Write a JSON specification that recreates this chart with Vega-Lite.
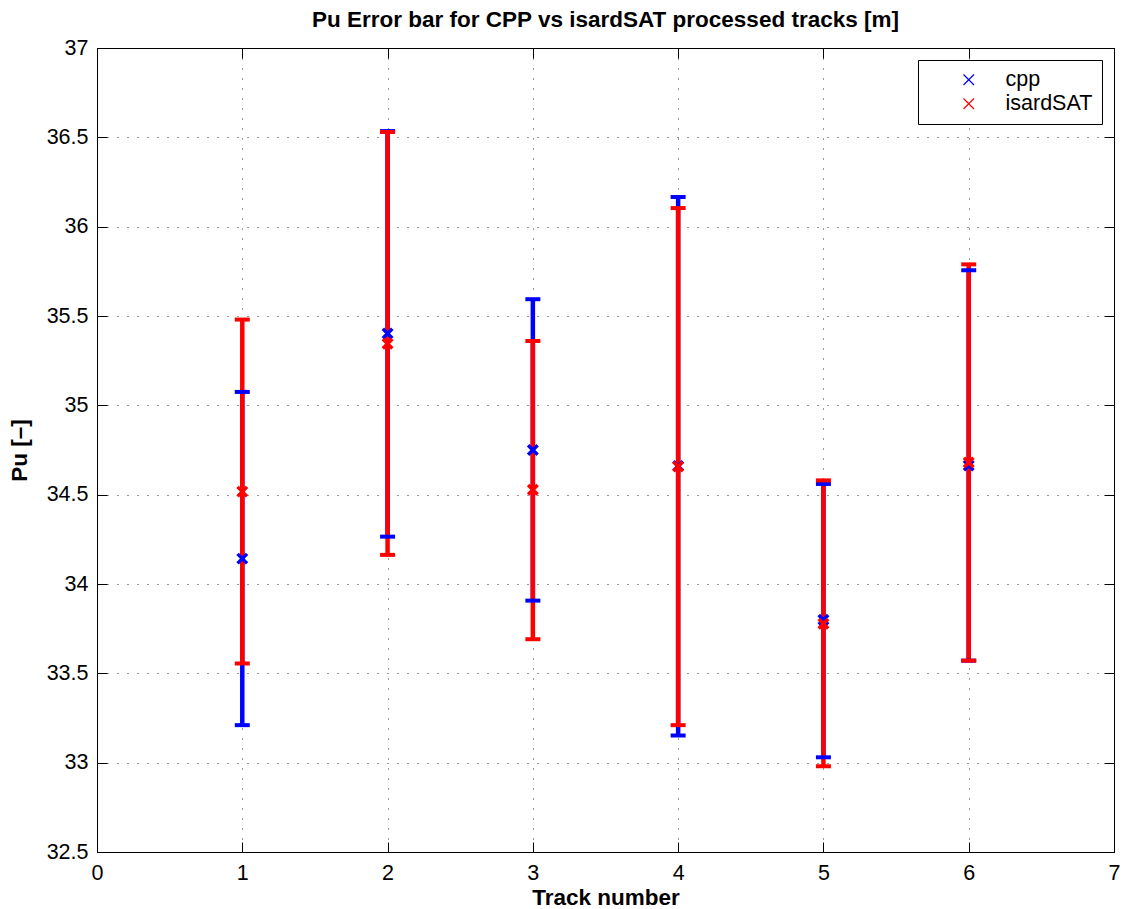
{
  "$schema": "https://vega.github.io/schema/vega-lite/v6.json",
  "autosize": {"type": "none"},
  "padding": {"left": 97, "top": 48, "right": 10, "bottom": 57},
  "width": 1017,
  "height": 804,
  "background": "white",
  "title": {
    "text": "Pu Error bar for CPP vs isardSAT processed tracks [m]",
    "font": "Liberation Sans",
    "fontSize": 22.5,
    "fontWeight": "bold",
    "color": "black",
    "anchor": "middle",
    "offset": 6
  },
  "config": {
    "view": {"stroke": "black", "strokeWidth": 1},
    "axis": {
      "labelFont": "Liberation Sans",
      "titleFont": "Liberation Sans",
      "labelFontSize": 21.5,
      "titleFontSize": 22.5,
      "titleFontWeight": "bold",
      "labelColor": "black",
      "titleColor": "black",
      "domainColor": "black",
      "tickColor": "black",
      "tickSize": -10,
      "labelFlush": false,
      "gridColor": "black",
      "gridDash": [1, 9],
      "gridOpacity": 0.8
    },
    "legend": {
      "title": null,
      "orient": "top-right",
      "offset": 12,
      "fillColor": "white",
      "strokeColor": "black",
      "padding": 9,
      "labelFont": "Liberation Sans",
      "labelFontSize": 21.5,
      "labelColor": "black",
      "symbolType": "M-1,-1L1,1M-1,1L1,-1",
      "symbolSize": 110,
      "symbolStrokeWidth": 1.2,
      "symbolFillColor": "transparent",
      "symbolOffset": 31,
      "labelOffset": 26,
      "rowPadding": 1
    }
  },
  "data": {
    "values": [
      {"track": 1, "series": "cpp", "val": 34.142, "lo": 33.21, "hi": 35.075},
      {"track": 1, "series": "isardSAT", "val": 34.517, "lo": 33.555, "hi": 35.48},
      {"track": 2, "series": "cpp", "val": 35.402, "lo": 34.265, "hi": 36.535},
      {"track": 2, "series": "isardSAT", "val": 35.345, "lo": 34.163, "hi": 36.53},
      {"track": 3, "series": "cpp", "val": 34.75, "lo": 33.907, "hi": 35.594},
      {"track": 3, "series": "isardSAT", "val": 34.527, "lo": 33.691, "hi": 35.36},
      {"track": 4, "series": "cpp", "val": 34.66, "lo": 33.152, "hi": 36.166},
      {"track": 4, "series": "isardSAT", "val": 34.657, "lo": 33.21, "hi": 36.104},
      {"track": 5, "series": "cpp", "val": 33.8, "lo": 33.03, "hi": 34.56},
      {"track": 5, "series": "isardSAT", "val": 33.778, "lo": 32.98, "hi": 34.58},
      {"track": 6, "series": "cpp", "val": 34.663, "lo": 33.571, "hi": 35.756},
      {"track": 6, "series": "isardSAT", "val": 34.68, "lo": 33.571, "hi": 35.789}
    ]
  },
  "resolve": {"axis": {"x": "independent", "y": "independent"}},
  "layer": [
    {
      "mark": {"type": "rule", "strokeWidth": 4.5, "opacity": 1},
      "encoding": {
        "x": {
          "field": "track", "type": "quantitative",
          "scale": {"domain": [0, 7], "nice": false, "zero": false},
          "axis": {"orient": "bottom", "title": "Track number", "values": [0,1,2,3,4,5,6,7], "grid": true, "labelPadding": 20, "titlePadding": 3, "format": "d"}
        },
        "y": {
          "field": "lo", "type": "quantitative",
          "scale": {"domain": [32.5, 37], "nice": false, "zero": false},
          "axis": {"orient": "left", "title": "Pu [–]", "values": [32.5,33,33.5,34,34.5,35,35.5,36,36.5,37], "grid": true, "labelPadding": 19, "titlePadding": 15, "labelExpr": "datum.value"}
        },
        "y2": {"field": "hi"},
        "color": {
          "field": "series", "type": "nominal",
          "scale": {"domain": ["cpp", "isardSAT"], "range": ["#0000ff", "#ff0000"]}
        }
      }
    },
    {
      "mark": {"type": "tick", "orient": "horizontal", "size": 15, "thickness": 4, "opacity": 1},
      "encoding": {
        "x": {"field": "track", "type": "quantitative", "axis": null},
        "y": {"field": "lo", "type": "quantitative", "axis": null},
        "color": {"field": "series", "type": "nominal"}
      }
    },
    {
      "mark": {"type": "tick", "orient": "horizontal", "size": 15, "thickness": 4, "opacity": 1},
      "encoding": {
        "x": {"field": "track", "type": "quantitative", "axis": null},
        "y": {"field": "hi", "type": "quantitative", "axis": null},
        "color": {"field": "series", "type": "nominal"}
      }
    },
    {
      "mark": {"type": "point", "shape": "M-1,-1L1,1M-1,1L1,-1", "filled": false, "size": 90, "strokeWidth": 3.5, "opacity": 1},
      "encoding": {
        "x": {
          "field": "track", "type": "quantitative",
          "axis": {"orient": "top", "title": null, "labels": false, "grid": false, "values": [0,1,2,3,4,5,6,7]}
        },
        "y": {
          "field": "val", "type": "quantitative",
          "axis": {"orient": "right", "title": null, "labels": false, "grid": false, "values": [32.5,33,33.5,34,34.5,35,35.5,36,36.5,37]}
        },
        "color": {"field": "series", "type": "nominal"}
      }
    }
  ]
}
